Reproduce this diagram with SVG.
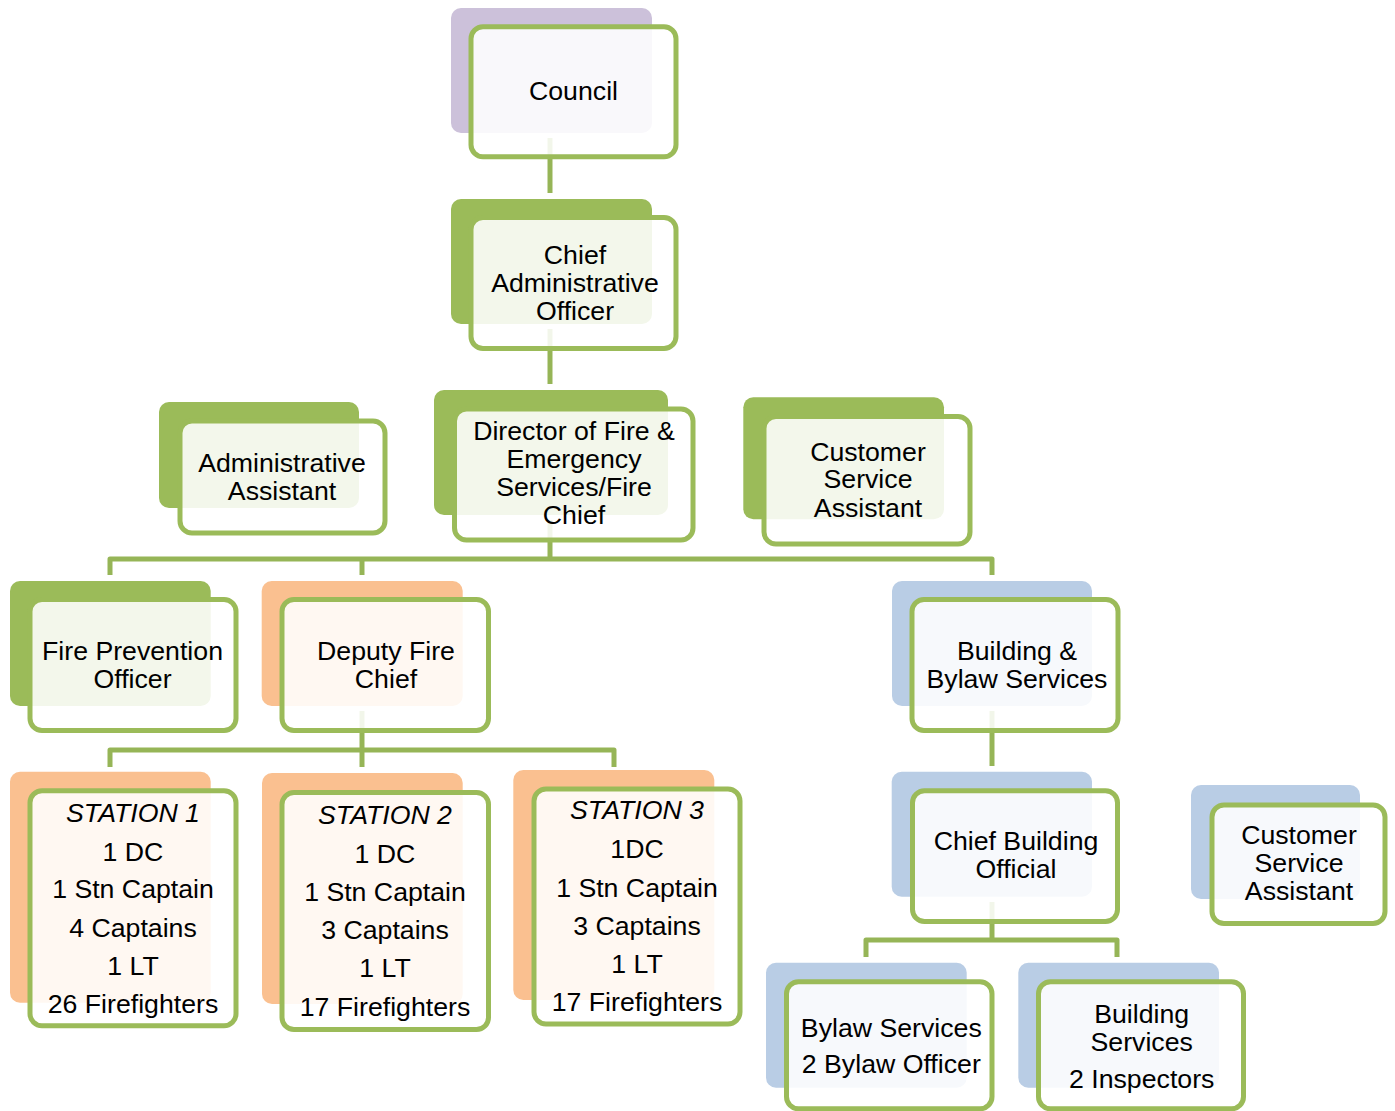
<svg xmlns="http://www.w3.org/2000/svg" width="1395" height="1111" viewBox="0 0 1395 1111">
<style>
.bg{fill:#ffffff}
.purple{fill:#ccc1da}
.green{fill:#9bbb59}
.orange{fill:#fac090}
.blue{fill:#b9cde5}
.front{fill:#ffffff;fill-opacity:0.88;stroke:#9bbb59;stroke-width:5}
.conn{fill:none;stroke:#96b557;stroke-width:5;stroke-linejoin:round}
text{font-family:"Liberation Sans",Arial,sans-serif;font-size:26.7px;fill:#000;text-anchor:middle}
.it{font-style:italic}
</style>
<rect class="bg" x="0" y="0" width="1395" height="1111"/>
<g id="connectors">
<path class="conn" d="M550,138 V193"/>
<path class="conn" d="M550,329 V384"/>
<path class="conn" d="M550,520 V559"/>
<path class="conn" d="M110,575 V559 H992 V575"/>
<path class="conn" d="M362,559 V575"/>
<path class="conn" d="M362,711 V750"/>
<path class="conn" d="M110,767 V750 H614 V767"/>
<path class="conn" d="M362,750 V767"/>
<path class="conn" d="M992,711 V766"/>
<path class="conn" d="M992,902 V940"/>
<path class="conn" d="M866,957 V940 H1117 V957"/>
</g>
<g id="council">
<rect class="purple" x="451" y="8" width="201" height="125" rx="10"/>
<rect class="front" x="471" y="26.7" width="205" height="130" rx="12"/>
<text x="573.5" y="100">Council</text>
</g>
<g id="cao">
<rect class="green" x="451" y="199" width="201" height="125" rx="10"/>
<rect class="front" x="471" y="217.5" width="205" height="131" rx="12"/>
<text x="575" y="263.5">Chief</text>
<text x="575" y="291.5">Administrative</text>
<text x="575" y="319.5">Officer</text>
</g>
<g id="admin-assistant">
<rect class="green" x="159" y="402" width="200" height="106" rx="10"/>
<rect class="front" x="180" y="421" width="205" height="112" rx="12"/>
<text x="282" y="471.5">Administrative</text>
<text x="282" y="499.5">Assistant</text>
</g>
<g id="director">
<rect class="green" x="434" y="390" width="234" height="125" rx="10"/>
<rect class="front" x="454.5" y="409" width="238.5" height="131" rx="12"/>
<text x="574" y="440">Director of Fire &amp;</text>
<text x="574" y="468">Emergency</text>
<text x="574" y="496">Services/Fire</text>
<text x="574" y="523.5">Chief</text>
</g>
<g id="csa-top">
<rect class="green" x="743.3" y="397.3" width="200.7" height="122" rx="10"/>
<rect class="front" x="764" y="416.5" width="206" height="127.5" rx="12"/>
<text x="868" y="460.7">Customer</text>
<text x="868" y="488.3">Service</text>
<text x="868" y="516.7">Assistant</text>
</g>
<g id="fire-prevention">
<rect class="green" x="10" y="581" width="200.7" height="125" rx="10"/>
<rect class="front" x="30" y="599.5" width="206" height="131" rx="12"/>
<text x="132.5" y="660">Fire Prevention</text>
<text x="132.5" y="688.3">Officer</text>
</g>
<g id="deputy">
<rect class="orange" x="261.7" y="581" width="201" height="125" rx="10"/>
<rect class="front" x="282" y="599.5" width="206.5" height="131" rx="12"/>
<text x="386" y="660">Deputy Fire</text>
<text x="386" y="688.3">Chief</text>
</g>
<g id="building-bylaw">
<rect class="blue" x="892" y="581" width="200" height="125" rx="10"/>
<rect class="front" x="912" y="599.5" width="206" height="131" rx="12"/>
<text x="1017" y="660">Building &amp;</text>
<text x="1017" y="688.3">Bylaw Services</text>
</g>
<g id="station1">
<rect class="orange" x="10" y="771.7" width="200.7" height="231" rx="10"/>
<rect class="front" x="30" y="790.8" width="206" height="235" rx="12"/>
<text class="it" x="133" y="821.7">STATION 1</text>
<text x="133" y="860.7">1 DC</text>
<text x="133" y="898.3">1 Stn Captain</text>
<text x="133" y="936.7">4 Captains</text>
<text x="133" y="975">1 LT</text>
<text x="133" y="1013.3">26 Firefighters</text>
</g>
<g id="station2">
<rect class="orange" x="262" y="773" width="200.7" height="231" rx="10"/>
<rect class="front" x="282" y="792.5" width="206.5" height="237" rx="12"/>
<text class="it" x="385" y="824">STATION 2</text>
<text x="385" y="862.7">1 DC</text>
<text x="385" y="900.5">1 Stn Captain</text>
<text x="385" y="939">3 Captains</text>
<text x="385" y="977">1 LT</text>
<text x="385" y="1015.5">17 Firefighters</text>
</g>
<g id="station3">
<rect class="orange" x="513.3" y="770" width="201" height="230" rx="10"/>
<rect class="front" x="534" y="789" width="206" height="235" rx="12"/>
<text class="it" x="637" y="819.3">STATION 3</text>
<text x="637" y="857.7">1DC</text>
<text x="637" y="896.7">1 Stn Captain</text>
<text x="637" y="935">3 Captains</text>
<text x="637" y="973.3">1 LT</text>
<text x="637" y="1010.7">17 Firefighters</text>
</g>
<g id="cbo">
<rect class="blue" x="891.7" y="771.7" width="200.3" height="125" rx="10"/>
<rect class="front" x="912.5" y="790.8" width="205" height="130.7" rx="12"/>
<text x="1016" y="850">Chief Building</text>
<text x="1016" y="878.3">Official</text>
</g>
<g id="csa-right">
<rect class="blue" x="1191" y="785" width="169" height="114" rx="10"/>
<rect class="front" x="1212" y="805" width="173" height="118.5" rx="12"/>
<text x="1299" y="844.3">Customer</text>
<text x="1299" y="871.7">Service</text>
<text x="1299" y="900">Assistant</text>
</g>
<g id="bylaw-services">
<rect class="blue" x="766" y="962.7" width="200.7" height="125" rx="10"/>
<rect class="front" x="786.5" y="981.8" width="205.5" height="127" rx="12"/>
<text x="891.3" y="1036.7">Bylaw Services</text>
<text x="891.3" y="1073.3">2 Bylaw Officer</text>
</g>
<g id="building-services">
<rect class="blue" x="1018.3" y="962.7" width="200.7" height="125" rx="10"/>
<rect class="front" x="1038.5" y="981.8" width="205" height="127" rx="12"/>
<text x="1141.7" y="1023.3">Building</text>
<text x="1141.7" y="1051">Services</text>
<text x="1141.7" y="1087.7">2 Inspectors</text>
</g>
</svg>
